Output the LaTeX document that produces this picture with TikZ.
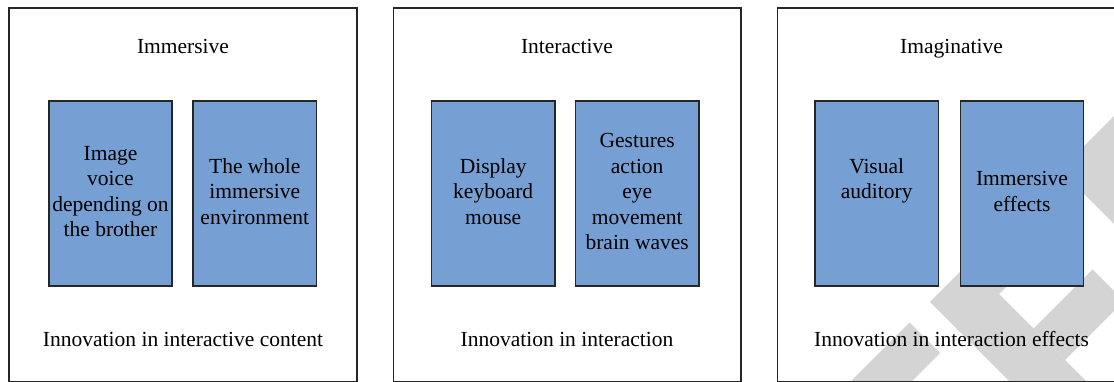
\documentclass[tikz,border=0pt]{standalone}
\usepackage{fontspec}
\setmainfont{Liberation Serif}
\definecolor{boxblue}{RGB}{118,159,211}
\definecolor{stamp}{RGB}{212,212,212}
\definecolor{edge}{RGB}{38,38,38}
\begin{document}
\begin{tikzpicture}[x=1pt,y=-1pt,
  panel/.style={draw=edge,line width=1.3pt},
  itembox/.style={draw=edge,line width=1.4pt,fill=boxblue},
  txt/.style={font=\fontsize{21.5}{25.5}\selectfont,inner sep=0pt},
  lines/.style={txt,align=center,anchor=center},
  heading/.style={txt,anchor=base}]
\useasboundingbox (0,0) rectangle (1114,381);
\clip (0,0) rectangle (1114,381);

% light grey stamp in the lower right corner
\fill[stamp] (909.5,322.5) -- (940,353) -- (893,400) -- (832,400) -- cycle;
\fill[stamp] (930,302) -- (968.5,263.5) -- (1105,400) -- (1028,400) -- cycle;
\fill[stamp] (930,302) -- (960.5,332.5) -- (1058,235) -- (1027.5,204.5) -- cycle;
\fill[stamp] (1033.5,328.5) -- (1065,360) -- (1124,301) -- (1092.5,269.5) -- cycle;
\fill[stamp] (1060,170) -- (1240,-10) -- (1300,-10) -- (1300,410) -- cycle;

% the three panels
\draw[panel] (9,8) rectangle (357,381.2);
\draw[panel] (393.3,8) rectangle (741,381.2);
\draw[panel] (777.3,8) rectangle (1125,381.2);

% panel 1
\node[heading] (t1) at (183,53.5) {Immersive};
\draw[itembox] (49,101) rectangle (172,286);
\draw[itembox] (193,101) rectangle (316.7,286);
\node[lines] (a1) at (110.5,193.5) {\strut Image\\\strut voice\\\strut depending on\\\strut the brother};
\node[lines] (b1) at (254.8,193.5) {\strut The whole\\\strut immersive\\\strut environment};
\node[heading] (f1) at (183,346.5) {Innovation in interactive content};

% panel 2
\node[heading] (t2) at (567,53.5) {Interactive};
\draw[itembox] (431.3,101) rectangle (555,286);
\draw[itembox] (575.3,101) rectangle (699,286);
\node[lines] (a2) at (493.2,193.5) {\strut Display\\\strut keyboard\\\strut mouse};
\node[lines] (b2) at (637.2,193.5) {\strut Gestures\\\strut action\\\strut eye\\\strut movement\\\strut brain waves};
\node[heading] (f2) at (567,346.5) {Innovation in interaction};

% panel 3
\node[heading] (t3) at (951.5,53.5) {Imaginative};
\draw[itembox] (815,101) rectangle (938.3,286);
\draw[itembox] (960.3,101) rectangle (1083.7,286);
\node[lines] (a3) at (876.7,180.75) {\strut Visual\\\strut auditory};
\node[lines] (b3) at (1022,193.5) {\strut Immersive\\\strut effects};
\node[heading] (f3) at (951.5,346.5) {Innovation in interaction effects};
\end{tikzpicture}
\end{document}
